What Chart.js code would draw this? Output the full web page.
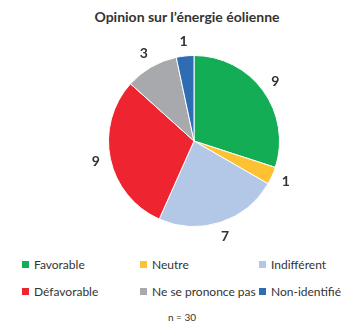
<!DOCTYPE html>
<html lang="fr">
<head>
<meta charset="utf-8">
<script src="https://cdn.jsdelivr.net/npm/chart.js@4.4.1/dist/chart.umd.min.js"></script>
<style>
  body { margin: 0; background: #fff; font-family: Lato, "Open Sans", sans-serif; color: #333; }
  #wrap { position: relative; width: 344px; height: 324px; }
  #titre { position: absolute; top: 8px; left: 0; width: 374px; text-align: center; font-weight: bold; font-size: 14px; color: #333; }
  #pie { position: absolute; top: 0; left: 0; }
  .leg { position: absolute; font-size: 12px; line-height: 14px; white-space: nowrap; }
  .leg span { display: inline-block; width: 7px; height: 7px; margin-right: 5px; vertical-align: 1px; }
  #n { position: absolute; top: 311px; left: 0; width: 364px; text-align: center; font-size: 10px; }
</style>
</head>
<body>
<div id="wrap">
  <div id="titre">Opinion sur l’énergie éolienne</div>
  <canvas id="pie" width="344" height="250"></canvas>
  <div id="legende"></div>
  <div id="n">n = 30</div>
</div>
<script>
const categories = ['Favorable', 'Neutre', 'Indifférent', 'Défavorable', 'Ne se prononce pas', 'Non-identifié'];
const reponses = [9, 1, 7, 9, 3, 1];
const couleurs = ['#12ad55', '#fdc232', '#b3c8e6', '#ee2530', '#a8a9ac', '#2e6db4'];

// légende en grille 3 colonnes
const colX = [22, 140, 259];
const rowY = [258, 285];
const legende = document.getElementById('legende');
categories.forEach((c, i) => {
  const d = document.createElement('div');
  d.className = 'leg';
  d.style.left = colX[i % 3] + 'px';
  d.style.top = rowY[Math.floor(i / 3)] + 'px';
  d.innerHTML = '<span style="background:' + couleurs[i] + '"></span>' + c;
  legende.appendChild(d);
});

// valeurs écrites à l'extérieur de chaque part
const etiquettes = {
  id: 'etiquettes',
  afterDatasetsDraw(chart) {
    const ctx = chart.ctx;
    const meta = chart.getDatasetMeta(0);
    ctx.save();
    ctx.font = 'bold 14px Lato, sans-serif';
    ctx.fillStyle = '#333';
    ctx.textAlign = 'center';
    ctx.textBaseline = 'middle';
    meta.data.forEach((arc, i) => {
      const p = arc.getProps(['x', 'y', 'startAngle', 'endAngle', 'outerRadius']);
      const a = (p.startAngle + p.endAngle) / 2;
      const r = p.outerRadius + 15;
      ctx.fillText(chart.data.datasets[0].data[i], p.x + Math.cos(a) * r, p.y + Math.sin(a) * r);
    });
    ctx.restore();
  }
};

new Chart(document.getElementById('pie'), {
  type: 'pie',
  data: {
    labels: categories,
    datasets: [{
      data: reponses,
      backgroundColor: couleurs,
      borderColor: '#fff',
      borderWidth: 1
    }]
  },
  options: {
    responsive: false,
    animation: false,
    layout: { padding: { left: 108, right: 64, top: 55, bottom: 23 } },
    plugins: {
      legend: { display: false },
      tooltip: { enabled: false }
    }
  },
  plugins: [etiquettes]
});
</script>
</body>
</html>
